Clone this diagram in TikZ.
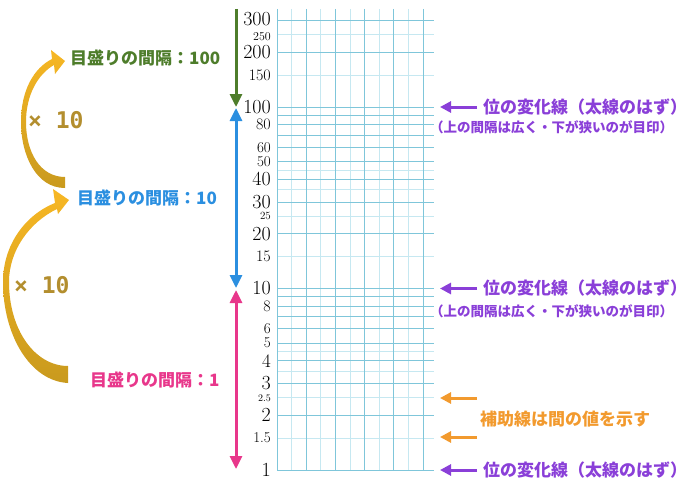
\documentclass[tikz,border=0pt]{standalone}
\usepackage{fontspec}
\usepackage{amsmath}
\usetikzlibrary{shapes,arrows.meta,calc}
\newfontfamily\jpfont{Noto Sans CJK JP}
\newfontfamily\monofont{DejaVu Sans Mono}
\definecolor{gridline}{HTML}{7FC6DA}
\definecolor{gridhalf}{HTML}{C6E8F1}
\definecolor{scalegreen}{HTML}{4E7D2B}
\definecolor{scaleblue}{HTML}{2B8FE0}
\definecolor{scalepink}{HTML}{E8378B}
\definecolor{changepurple}{HTML}{8A3FD8}
\definecolor{helporange}{HTML}{F29A2E}
\definecolor{timesgold}{HTML}{B38E2E}
\definecolor{curvetop}{HTML}{F7B724}
\definecolor{curvebottom}{HTML}{C99A1E}

\begin{document}
\begin{tikzpicture}[x=1pt,y=-1pt,
    every node/.style={inner sep=0pt},
    gridmain/.style={draw=gridline,line width=0.8pt},
    gridsub/.style={draw=gridhalf,line width=0.8pt},
    onetip/.style={line width=3pt,-{Triangle[width=12pt,length=13pt]}},
    twotips/.style={line width=3pt,{Triangle[width=12pt,length=13pt]}-{Triangle[width=12pt,length=13pt]}},
    pointer/.style={line width=3pt,-{Triangle[width=11pt,length=11pt]}},
    jplabel/.style={anchor=west,font=\jpfont\bfseries\fontsize{17}{17}\selectfont},
    jpsmall/.style={anchor=west,font=\jpfont\bfseries\fontsize{13.5}{13.5}\selectfont},
    timeslabel/.style={anchor=west,text=timesgold,font=\monofont\bfseries\fontsize{23}{23}\selectfont}]
  \useasboundingbox (0,0) rectangle (700,495);
  % graph paper
  \foreach \i in {1,3,...,9}{
    \draw[gridsub] (277+14.6*\i,9) -- (277+14.6*\i,470);
  }
  \foreach \v in {1.5,2.5,3.5,4.5,15,25,35,45,150,250}{
    \draw[gridsub] (277,{470-181.5*log10(\v)}) -- (434,{470-181.5*log10(\v)});
  }
  \foreach \i in {0,2,...,10}{
    \draw[gridmain] (277+14.6*\i,9) -- (277+14.6*\i,470);
  }
  \foreach \v in {1,2,3,4,5,6,7,8,9,10,20,30,40,50,60,70,80,90,100,200,300}{
    \draw[gridmain] (277,{470-181.5*log10(\v)}) -- (434,{470-181.5*log10(\v)});
  }
  % scale numbers
  \foreach \v/\s/\d [count=\k] in {1/20/0,1.5/15/0,2/20/0,2.5/10/0,3/20/0,4/19/0,5/15/0,6/15/0,8/16/0,10/20/0,15/16/0,20/20/0,25/11/0,30/20/0,40/20/0,50/15/0,60/15/0,80/16/0,100/20/0,150/16/0,200/20/0,250/12/2,300/20/-1}{
    \node[anchor=east,font=\fontsize{\s}{\s}\selectfont] (num\k) at (271,{470-181.5*log10(\v)+\d}) {\v};
  }
  % decade arrows
  \coordinate (gtop) at (236,9);
  \coordinate (g100) at (236,107);
  \coordinate (b100) at (236,108);
  \coordinate (b10) at (236,288);
  \coordinate (p10) at (236,290);
  \coordinate (p1) at (236,469);
  \draw[onetip,scalegreen] (gtop) -- (g100);
  \draw[twotips,scaleblue] (b100) -- (b10);
  \draw[twotips,scalepink] (p10) -- (p1);
  \node[jplabel,text=scalegreen] (step100) at (70,58) {目盛りの間隔：100};
  \node[jplabel,text=scaleblue] (step10) at (77,198) {目盛りの間隔：10};
  \node[jplabel,text=scalepink] (step1) at (90,380) {目盛りの間隔：1};
  % curved arrows
  \shade[top color=curvetop,bottom color=curvebottom]
    (65,188) .. controls (36,188) and (21,155) .. (21,122)
    .. controls (21,90) and (34,68) .. (52,59)
    -- (51,50) -- (65,61) -- (55,74) -- (54,65)
    .. controls (38,74) and (26,95) .. (26,122)
    .. controls (26,152) and (40,177) .. (65,177) -- cycle;
  \shade[top color=curvetop,bottom color=curvebottom]
    (68,383) .. controls (30,381) and (3,335) .. (3,282)
    .. controls (3,245) and (25,215) .. (55,203)
    -- (53,189) -- (69,200) -- (58,214) -- (57,209)
    .. controls (30,222) and (9,250) .. (9,282)
    .. controls (9,330) and (35,366) .. (68,366) -- cycle;
  \node[timeslabel] (times1) at (28,120) {× 10};
  \node[timeslabel] (times2) at (14,285) {× 10};
  % notes on the right
  \foreach \v/\tag in {100/c, 10/b, 1/a}{
    \node[jplabel,text=changepurple] (change\tag) at (483,{470-181.5*log10(\v)}) {位の変化線（太線のはず）};
    \coordinate (changetip\tag) at (440,{470-181.5*log10(\v)});
    \draw[pointer,changepurple] ([xshift=-6pt]change\tag.west) -- (changetip\tag);
  }
  \node[jpsmall,text=changepurple] (hintc) at (430,127) {（上の間隔は広く・下が狭いのが目印）};
  \node[jpsmall,text=changepurple] (hintb) at (430,311) {（上の間隔は広く・下が狭いのが目印）};
  \node[jplabel,text=helporange] (helper) at (480,419) {補助線は間の値を示す};
  \coordinate (helpup) at (477,398);
  \coordinate (helpuptip) at (440,398);
  \coordinate (helpdown) at (477,437);
  \coordinate (helpdowntip) at (440,437);
  \draw[pointer,helporange] (helpup) -- (helpuptip);
  \draw[pointer,helporange] (helpdown) -- (helpdowntip);
\end{tikzpicture}
\end{document}
